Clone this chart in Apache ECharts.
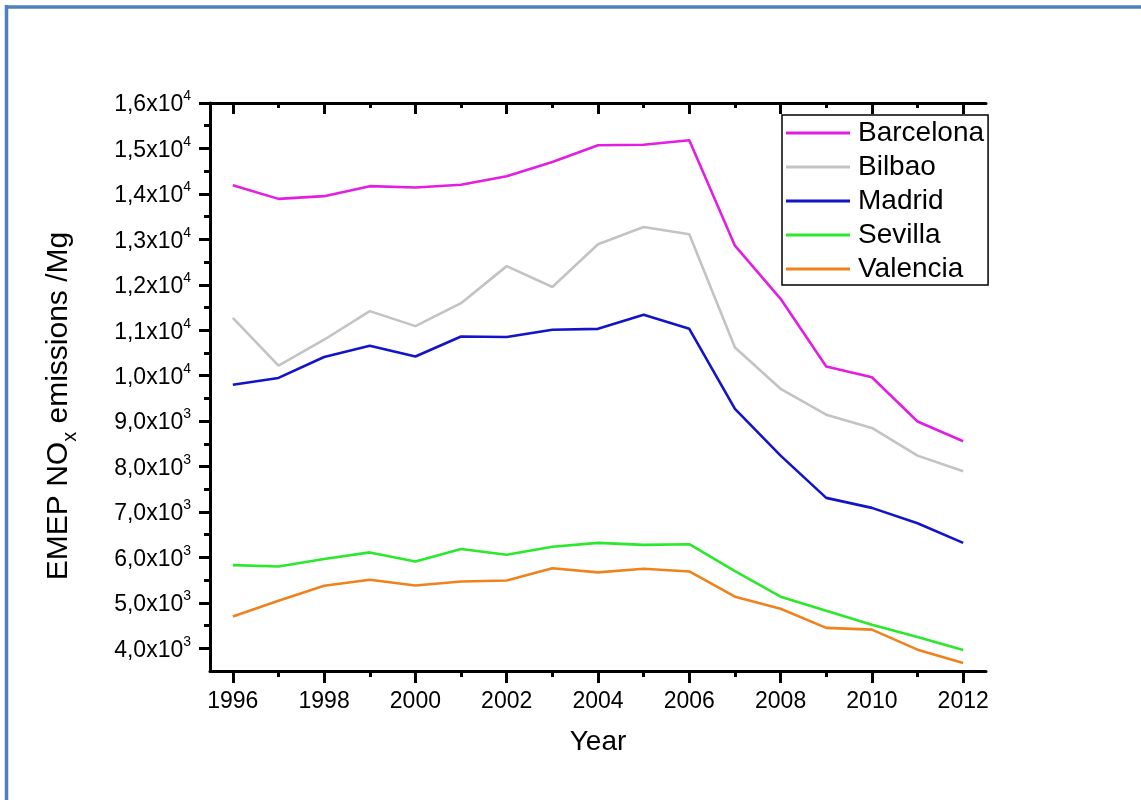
<!DOCTYPE html>
<html><head><meta charset="utf-8">
<script src="https://cdn.jsdelivr.net/npm/echarts@6/dist/echarts.min.js"></script>
<style>html,body{margin:0;padding:0;background:#fff}#c{width:1141px;height:800px}</style>
</head><body><div id="c"></div>
<script>
const years = [1996,1997,1998,1999,2000,2001,2002,2003,2004,2005,2006,2007,2008,2009,2010,2011,2012];
const barcelona = [14190,13890,13950,14170,14140,14200,14390,14700,15070,15080,15180,12860,11690,10200,9965,8990,8555];
const bilbao    = [11270,10220,10790,11420,11090,11595,12410,11950,12890,13270,13110,10620,9710,9140,8850,8240,7895];
const madrid    = [9800,9950,10410,10660,10420,10860,10850,11010,11030,11340,11030,9270,8240,7310,7090,6750,6320];
const sevilla   = [5830,5800,5965,6110,5910,6185,6060,6235,6320,6275,6290,5700,5135,4826,4520,4250,3960];
const valencia  = [4700,5045,5375,5510,5380,5470,5490,5760,5670,5750,5690,5135,4870,4450,4410,3970,3675];
const seriesNames = ['Barcelona','Bilbao','Madrid','Sevilla','Valencia'];
const xTickYears = [1996,1998,2000,2002,2004,2006,2008,2010,2012];
const xMinorYears = [1997,1999,2001,2003,2005,2007,2009,2011];
const yTickValues = [4000,5000,6000,7000,8000,9000,10000,11000,12000,13000,14000,15000,16000];
const yMinorValues = [4500,5500,6500,7500,8500,9500,10500,11500,12500,13500,14500,15500];

const colors = ['#e31ee3','#c3c3c3','#1313c8','#2be82b','#f0821e'];
const FONT = 'Liberation Sans, Arial, Helvetica, sans-serif';
const allData = [barcelona, bilbao, madrid, sevilla, valencia];

function yFmt(v){
  if (v >= 10000) return '{m|' + (v/10000).toFixed(1).replace('.', ',') + 'x10}{s|4}';
  return '{m|' + (v/1000).toFixed(1).replace('.', ',') + 'x10}{s|3}';
}
const axisLineStyle = {color:'#000', width:3};
const chart = echarts.init(document.getElementById('c'), null, {renderer:'canvas'});
const xBase = {type:'value', min:1995.5, max:2012.5, splitLine:{show:false}};
const yBase = {type:'value', min:3500, max:16000, splitLine:{show:false}};
chart.setOption({
  animation:false,
  backgroundColor:'#fff',
  grid:{left:210, top:103, right:155, bottom:129},
  legend:{
    orient:'vertical', left:782, top:115, padding:[3,4,1,4],
    icon:'rect', itemWidth:64, itemHeight:3, itemGap:4,
    borderColor:'#000', borderWidth:1.5,
    textStyle:{fontFamily:FONT, fontSize:28, color:'#000', lineHeight:30, padding:[0,0,0,3]},
    data: seriesNames
  },
  xAxis:[
    Object.assign({}, xBase, {position:'bottom',
      axisLine:{show:true, onZero:false, lineStyle:axisLineStyle},
      axisTick:{show:true, inside:false, length:12, lineStyle:{color:'#000', width:3}, customValues:xTickYears},
      axisLabel:{show:true, margin:19, customValues:xTickYears, fontFamily:FONT, fontSize:23, color:'#000', formatter:v=>String(v)}
    }),
    Object.assign({}, xBase, {position:'bottom',
      axisLine:{show:false, onZero:false},
      axisTick:{show:true, inside:false, length:6, lineStyle:{color:'#000', width:3}, customValues:xMinorYears},
      axisLabel:{show:false}
    }),
    Object.assign({}, xBase, {position:'top',
      axisLine:{show:true, onZero:false, lineStyle:axisLineStyle},
      axisTick:{show:true, inside:true, length:11, lineStyle:{color:'#000', width:3}, customValues:xTickYears},
      axisLabel:{show:false}
    }),
    Object.assign({}, xBase, {position:'top',
      axisLine:{show:false, onZero:false},
      axisTick:{show:true, inside:true, length:5, lineStyle:{color:'#000', width:3}, customValues:xMinorYears},
      axisLabel:{show:false}
    })
  ],
  yAxis:[
    Object.assign({}, yBase, {position:'left',
      axisLine:{show:true, onZero:false, lineStyle:axisLineStyle},
      axisTick:{show:true, inside:false, length:11, lineStyle:{color:'#000', width:3}, customValues:yTickValues},
      axisLabel:{show:true, margin:19, customValues:yTickValues, formatter:yFmt,
        rich:{
          m:{fontFamily:FONT, fontSize:23, color:'#000', lineHeight:27, verticalAlign:'bottom'},
          s:{fontFamily:FONT, fontSize:14, color:'#000', lineHeight:14, verticalAlign:'top'}
        }}
    }),
    Object.assign({}, yBase, {position:'left',
      axisLine:{show:false, onZero:false},
      axisTick:{show:true, inside:false, length:6, lineStyle:{color:'#000', width:3}, customValues:yMinorValues},
      axisLabel:{show:false}
    })
  ],
  series: seriesNames.map((n,i)=>({
    name:n, type:'line', xAxisIndex:0, yAxisIndex:0, symbol:'none',
    color:colors[i],
    lineStyle:{color:colors[i], width:2.6},
    data: years.map((y,j)=>[y, allData[i][j]])
  })),
  graphic:[
    {type:'line', shape:{x1:6.5, y1:5, x2:6.5, y2:800}, style:{stroke:'#4f81bd', lineWidth:3.5}},
    {type:'line', shape:{x1:5, y1:7, x2:1141, y2:7}, style:{stroke:'#4f81bd', lineWidth:3.5}},
    {type:'text', x:598, y:742, style:{text:'Year', fontFamily:FONT, fontSize:28, fill:'#000', textAlign:'center', textVerticalAlign:'middle'}},
    {type:'text', x:62, y:406, rotation:Math.PI/2,
      style:{text:'{a|EMEP NO}{b|x}{a| emissions /Mg}', textAlign:'center', textVerticalAlign:'middle',
        rich:{
          a:{fontFamily:FONT, fontSize:30, fill:'#000', lineHeight:36, verticalAlign:'top'},
          b:{fontFamily:FONT, fontSize:20, fill:'#000', lineHeight:20, verticalAlign:'bottom'}
        }}}
  ]
});
</script></body></html>
